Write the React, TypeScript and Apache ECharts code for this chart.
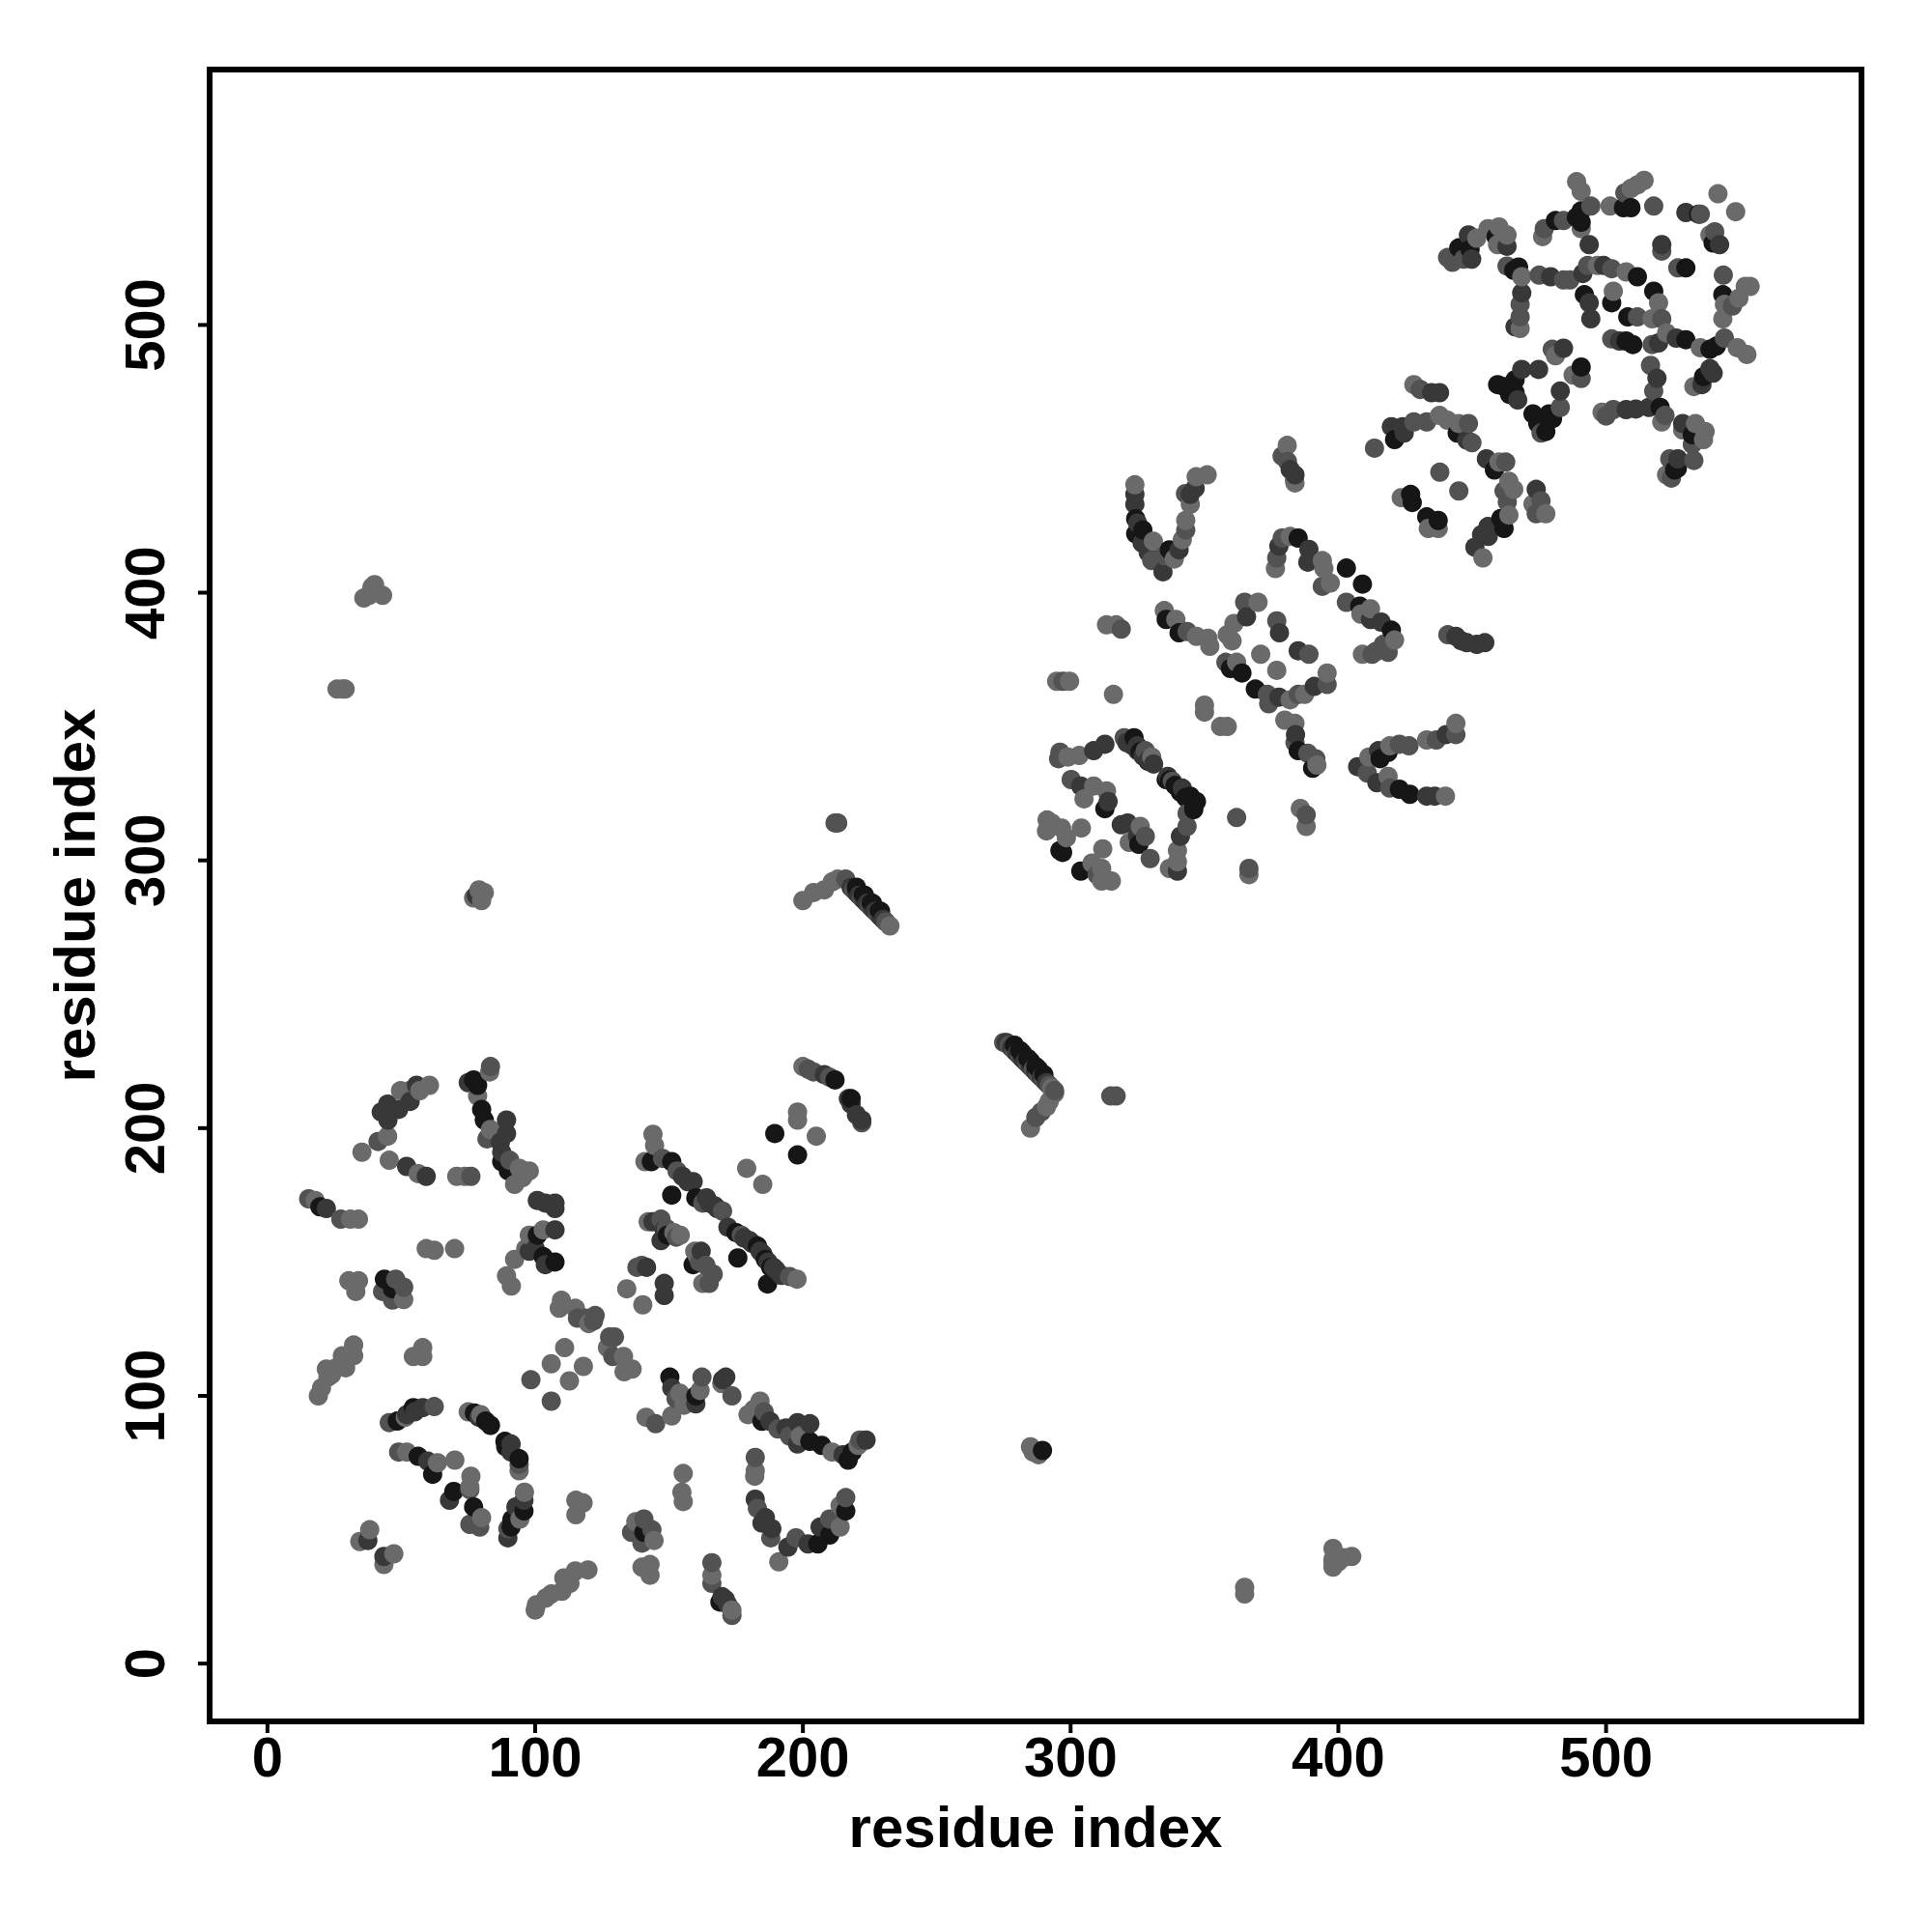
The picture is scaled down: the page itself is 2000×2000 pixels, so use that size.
import React, { useEffect, useRef } from "react";
import * as echarts from "echarts";

const tickValues = [0, 100, 200, 300, 400, 500];
const axisTitle = "residue index";
const AXIS_MIN = -21.6;
const AXIS_MAX = 595.4;

const blackPoints = [
[77,218],[78.5,216],[80,207],[81,203],[87.5,187.5],[90,184],[19.6,170.6],[100.8,160],[103,152],[107.4,150],[43.7,143.6],[46.7,140],[48.5,90.6],[54.5,95.6],[77.3,93.6],[81.5,90.6],[83.3,89],[88.7,83],[89,81],[94,76.5],[56.3,77.4],[61.7,70.7],[69.6,64.3],[77,58.5],[95.8,57],[91.3,53.8],[91,51],[140.6,49],[169,23],[205.6,44.7],[210,48],[216,57],[150.3,107],[160,100],[184.7,90.5],[202.6,83],[207,81.5],[216.9,76],[218.4,79],
[143.4,187.5],[151,187.5],[151,175],[160,174],[149.4,160],[159,149],[175,161],[183,156],[186,151],[188,148],[186.8,141.8],[175.7,151.5],[189.5,198],[198,190],[212,218],[218,211],
[324.3,427.6],[327,423.4],[324.3,422],[336.9,416],[385,420.4],[403,409.2],[409,403.2],[408,395],[419.8,386],[335.7,390],[340.5,385],[364,370],[359.7,371.7],[369,364],[385,341],[390.4,334.4],[418.6,340.4],[415.6,338],[422.8,326.6],[426.7,324.7],[323.7,345.8],[329,337],[326,340.6],[335.7,330.2],[344.7,324],[345.9,321],[312.8,319.3],[325.5,306],[296,303.7],[303.8,296],[427,436.7],[427.6,433.7],[433,428.3],[437.3,427],[297,303],
[445,528.8],[449.2,528.2],[458.9,533],[465.5,520.4],[467.3,521.6],[511.7,518],[491.9,511.3],[502.1,508.3],[481.1,539],[488.9,540.2],[490.7,542.6],[490.7,538.4],[509.3,543.8],[506.5,543.8],[529.8,521.3],[534.6,541.4],[540,530.6],[543.6,511.3],[517.8,512.6],[508.1,503],[507.5,494],[510,492.7],[529.8,494.5],[538.8,490.9],[541.2,492.1],[536.4,480.7],[520.2,469.2],[532.2,459],[526.6,446.4],[525.6,445.8],[466,479.5],[459.5,477.7],[461.9,477],[466,474.7],[464,474],[490.7,484.3],[478.7,466.8],[472.7,466.8],[474.5,463.2],[477.5,460.2],[480,465],[444.4,459.6],[421,457.2],[458.3,445.8],[460.7,427.7],[461.9,424],
[289.5,79.6],
[220,290],[223,287],[226,284],[229,281],[222.5,287],[225.5,284],[228.5,281],[279,231],[282,228],[285,225],[288,222],[281,229],[284,226],[287,223],[290,220],
[337,330],[339,328],[341,325.5],[343,323.5],[346,319],[347,322],
];

const darkPoints = [
[45,203],[42.5,206],[49,207],[44.9,209],[53.3,210],[55.7,216],[75,217],[89.3,203],[89.3,198],[87,194.7],[87.5,191],[52,185.7],[59.3,182],[22,170],[103.8,172],[107.4,172],[107.4,170],[100.8,173],[107.4,162],[97.8,154],[100,155],[103.8,149],[52,93],[55,94],[58,95.6],[79,92],[91,82],[91,79],[59.9,75.6],[68,61],[95.8,61],[92.8,58.5],[89.8,47],[37.5,46],[43.5,40],[169.8,25],[172,22],[171,24],[182.2,61.4],[186,54.5],[188.4,50.4],[184.7,52.5],[194.4,43.5],[201.9,44.7],[206.4,51],[171.2,107],[170,106],[151,103],[160,97],[187.7,90.5],[193.7,88],[198,90],[202.6,89.6],[198,82],[223.6,83.5],[215,78],
[159,180],[148.2,162],[141.6,148],[148.2,142],[148.2,137.5],[165,172],[168,170],[172,163],[180,158],[185,153],[190,147],[147,158],[144,165],[162,154],[208,220],[217,211],[218,209],[220,205],[222,203],
[155,182],[157,180],[164,174],[167,171],[178,159],[181,157],[184,154],[187,150],[189,148],[192,145],
[218,290],[220,288],[221,287],[223,285],[224,284],[226,282],[227,281],[229,279],[230,278],[276,232],[278,230],[280,228],[282,226],[283,225],[285,223],[287,221],[289,219],[291,217],[78,287],
[321,344],[323,343],[325,341],[327,339],[329,337.5],[331,336],
[324,436.7],[324,433],[325,426],[326.7,418.6],[329,415],[334.5,407.8],[340.5,416],[344.7,436.7],[346.5,439],[383.8,444],[382,446],[377.8,417.4],[389,416.2],[388.6,411.4],[412,390],[416,389],[443.9,383.7],[448,381.3],[451.7,380.7],[454.7,381.3],[446,382],[365.7,391],[378,385],[385,378.3],[377.8,361],[391,365],[384,347],[440.3,347],[415,341],[407.2,335],[414.4,329],[433,324],[436,324],[308.6,341],[312.8,343.4],[324.9,342.8],[336.3,331.4],[341.7,327],[341,309],[339.9,296],[303.8,327.8],[314,322],[318.9,313.3],[321.3,314],[325,309],
[468.5,512],[449.8,524.6],[448.6,533.6],[463,529.4],[479.3,518],[491.3,519.2],[499.1,522.2],[493.7,530],[493.7,508.3],[494.3,502.3],[466,499.3],[520.8,530],[529.8,542],[542.4,530],[526.2,495.1],[519.6,493.3],[505,494],[538.8,483.7],[540,482],[535.8,477.7],[519,480.1],[516,469.2],[511.1,468.6],[507.5,468.4],[528.6,463.2],[526.8,450],[474.8,483.4],[468.5,483.4],[467,472],[484.1,491.3],[482.9,475.3],[434.8,474.7],[437.8,474.7],[419.8,462],[424,462],[424.6,459.6],[448,457],[455.3,450],[455.9,424.7],[453.5,421.7],[473.9,438.6],[456,421],[451,417],
];

const midPoints = [
[41.3,195],[83.3,223],[82,196],[90.5,188],[15.4,173.6],[27.4,166],[76,182],[47.9,143.6],[43,139],[50.9,140.6],[46.7,135.8],[45.5,90],[62.3,96],[94,74.4],[49,79],[75.6,65],[79.3,51],[75.6,52],[89.8,50.4],[182.2,77],[136,49],[140.6,54],[143.6,50],[139.9,45],[166,37.7],[166,30],[173.5,18],[183,58],[188,47],[197.4,47],[210,54],[216,62],[162.3,107],[173.5,100],[152.6,99],[145,89.6],[185.5,94],[190.7,87.6],[195,85],[221.3,83.5],
[147.6,188.7],[153,184],[162.6,172],[147,166],[161.4,150],[138,148],[170,169],[177,160],[195,144.6],[149,162.5],[152.7,159.3],[163.8,148.7],[166.5,145.5],[165,142],[139.8,148.7],[202,222],[204,221],[210,219],[222,202],[98.4,106],[106,98],[115.8,129],[118.8,129],[122.4,130],[121.8,128],[127.8,122],[129.6,122],[129,114.7],[212,314],[213,314],[315,212],[317,212],[216,293],[219,289],[222,286],[225,283],[228,280],[231,277],[275,232],[277,231],[279,229],[281,227],[284,224],[286,222],[288,220],[290,218],[292,216],[294,214],[287,204],[289,206],
[343,423.4],[330.3,412],[335,413.8],[342.9,437],[379,451],[381,449],[377,413],[379,420.4],[394,402.4],[403,396.4],[412.6,377],[418.6,377.7],[416.8,380.7],[414,378],[440.9,384.3],[343.5,385.5],[365,396.4],[358,374],[377,389.5],[389,377],[373.5,362],[374,358.5],[395.8,365.7],[385,362],[383.8,344],[388.6,340],[391.6,338],[297.2,366.9],[318.9,386.4],[443.9,347],[436.6,345],[426.4,342.8],[422.8,343.4],[410.8,332.6],[419.2,327],[296,340.4],[295.5,338],[320,345.8],[327.9,341],[338,329.6],[343.5,317.6],[343.5,312.7],[300.2,330.2],[327.9,309],[329.7,300.7],[309.9,294.7],[362,316],[388,317],[366.6,297],[437.9,445],[445,438],
[440.8,525.2],[442.6,523.4],[446.8,524.6],[463,522],[467.9,507.7],[467.9,503],[475,518.6],[484.1,516.8],[486.5,516.8],[493.1,522.2],[502.1,521],[476.9,536],[484.1,539],[494.3,544.4],[507,549.3],[517.8,544.4],[520.8,527.6],[526.8,521.3],[535.2,541.4],[540.6,534.8],[543.8,518.6],[547.2,507.1],[511.7,503],[520.8,502.3],[502.1,494.8],[517.2,492.7],[544.2,495.1],[516.6,484.9],[517.8,475.3],[522,466.2],[502.7,468.4],[500,466],[532.2,455.4],[532.8,449.4],[523.8,450],[524.4,442.8],[479.9,490.9],[490.7,480],[482.9,469.2],[475.7,459.6],[430.6,475.9],[428.2,463.8],[433,463.8],[448.6,463.2],[449.9,456],[462.5,448.8],[461.9,438],[463.1,433.8],[475.7,434.3],[473.9,429.5],[413.5,454],
];

const lightPoints = [
[44.9,197],[53,214],[49.7,214],[60.5,216],[56.9,214],[83,221],[78.5,212],[83.3,199.5],[94.1,185],[97.8,184],[92.3,179],[95.3,181.5],[35.3,191],[45.5,188],[56.3,183],[70.7,182],[73.7,182],[17.8,173],[31,166],[34,166],[59.3,155],[62.3,154.4],[69.9,155],[30.4,143],[34,143],[33,139],[97.8,160],[103,162],[96.5,155],[92.3,151],[89.3,144.8],[91.1,141],[50.9,136],[19,100],[20.2,103],[22.6,107],[22,110],[25.6,110.5],[29.2,110.5],[28,115],[32.2,115],[32.2,119],[24,108],[54.5,114.7],[58,114.7],[58,118],[51.5,92],[75,94],[79.7,93],[52,79],[63.5,75],[70,76],[76,70],[75.6,66],[80,54.5],[94,72],[96,64],[94.3,54],[38.2,50],[34.5,45.6],[47.2,41],[43.5,37],[115.2,61],[117.9,60],[115.2,55.6],[155.3,71],[154.8,64],[155.3,60.5],[182.2,72],[182,70],[137.6,53],[144.4,46],[139.9,36],[142.9,37],[142.9,33],[166,33],[173.5,20],[100,20],[100.5,22],[104,24.5],[110,27],[110.7,32],[115,34.6],[119.7,35],[106,26],[113,30],[191,38],[213.9,51],[213.9,59],[169.7,104.6],[154,101],[161.6,102],[157.8,98],[155.6,96.5],[151,92.5],[141.4,92],[179.5,93],[184,98],[181.7,95],[199,85],[210.9,79],[220.6,81.5],
[144,197.7],[144.6,193.5],[141,187.5],[142.2,165],[151.8,161],[154.2,160],[159.6,154],[162.6,142],[134.2,140],[140.2,134],[197.8,143.6],[160.5,152.4],[179,185],[185,179],[198,206],[198,203],[205,197],[200,223],[109.8,135.7],[109,132.7],[115,132.7],[120,127],[127,118],[133,114.7],[133.2,109],[136.2,110],[111,118],[106,112],[118,111],[112.8,105.6],
[36,398],[38,399],[40,403],[41,400],[43,399],[39,402],[26,364],[28,364],[29,364],[77,286],[79,289],[80,285],[81,288],[200,285],[204,288],[208,289],[211,292],[213,293],[232.5,275.5],[398,43],[398,39],[398,36],[402,39.6],[405,40],[400,38],[285,81],[286,79],[288,78],[285,200],[291,208],[292,210],[294,213],[293,215],[365,28.5],[365,26],[398,38],
[324,440.3],[330.9,419.2],[338.7,412.6],[341.7,419.8],[343,427],[344.7,433],[346.9,443.3],[351,444],[383.8,441],[380.9,455],[383.6,442],[376.5,409],[382,421],[394,412],[394.6,409],[397,403.6],[408.4,392],[412,394],[421,382.3],[409,377],[335,393.3],[339.3,390],[347,383.7],[351.3,383],[352,380],[370,396.4],[361,388.5],[358.5,384.3],[360.3,382],[362,374],[371,377],[377,371],[382,360],[387.4,362],[395.8,370],[383.8,351.2],[380,352.4],[392,335.6],[294.8,366.9],[299.6,366.9],[316,362],[350,358],[350,355.4],[356,350],[358.5,350],[313.4,388],[317,388],[443.9,351.2],[433,345],[419.2,342.8],[411.4,338.6],[418.6,331.4],[440,324],[299,338.6],[303.2,339.2],[330.3,338.6],[339.9,303.7],[339.9,299.5],[336.9,297],[308.6,327.8],[313.4,326],[305,323],[326,312.7],[321.9,306.7],[291.2,315.1],[293,313.9],[296.6,312.1],[291,311],[304,312.1],[298.4,308.5],[312,304.3],[308,299],[311.6,297],[311.6,292.3],[315.2,292.3],[385.8,319.4],[388,312.7],[366.6,294.7],[423.5,435.5],[433.6,424],[437.3,424],
[451.7,532.4],[455.9,536],[460,536.6],[463,533.6],[459.5,530],[468.5,518],[467.9,498.7],[496.7,522.2],[507.5,519.8],[502.7,512.6],[476.3,533],[489,553.5],[490.7,549.9],[490.7,536],[501.5,544.4],[509.3,551],[511.7,552.3],[514.2,554],[541.8,549],[548.4,542.3],[538.8,533.6],[552,514.4],[553.8,514.4],[549.6,510],[543.6,502.3],[544.2,507.7],[519.6,508.3],[517.2,502.3],[522.6,497],[535.2,491.5],[549,491.5],[552.6,489],[532.8,477],[520.8,463.8],[498.5,467.4],[528.6,460.8],[533.4,463.2],[537,460.2],[536.4,457.2],[522.6,444],[481.1,488.5],[487.7,481.3],[428.2,477.7],[437.8,466.2],[440.8,464.4],[445,463.2],[460,448.8],[463.7,441.6],[465.5,438.6],[463.7,429],[477.5,429.5],[472.7,433.1],[454,413],
];

const shadeGroups: [number[][], string][] = [
  [lightPoints, "#6a6a6a"],
  [midPoints, "#525252"],
  [darkPoints, "#383838"],
  [blackPoints, "#161616"],
];

// The reference overdraws its dots column by column: larger x lies on top.
const drawOrder = shadeGroups
  .flatMap(([points, color]) =>
    points.map((value) => ({ value, itemStyle: { color, opacity: 1 } })),
  )
  .sort((a, b) => a.value[0] - b.value[0] || a.value[1] - b.value[1]);

const FONT = "Liberation Sans";

const axisBase = {
  type: "value",
  min: AXIS_MIN,
  max: AXIS_MAX,
  name: axisTitle,
  nameLocation: "middle",
  nameTextStyle: { fontFamily: FONT, fontWeight: "bold", fontSize: 60, color: "#000" },
  axisLine: { show: true, onZero: false, lineStyle: { color: "#000", width: 6 } },
  splitLine: { show: false },
  axisTick: { show: false },
};

const labelBase = {
  show: true,
  color: "#000",
  fontFamily: FONT,
  fontWeight: "bold",
  fontSize: 58,
  customValues: tickValues,
};

export default function App() {
  const ref = useRef<HTMLDivElement>(null);
  useEffect(() => {
    const chart = echarts.init(ref.current!, null, { renderer: "svg" });
    chart.setOption({
      animation: false,
      backgroundColor: "#fff",
      grid: {
        left: 217,
        top: 72,
        width: 1710,
        height: 1710,
        show: true,
        borderColor: "#000",
        borderWidth: 6,
        backgroundColor: "transparent",
      },
      xAxis: {
        ...axisBase,
        nameGap: 79,
        axisLabel: { ...labelBase, margin: 7 },
      },
      yAxis: {
        ...axisBase,
        nameGap: 110,
        axisLabel: { ...labelBase, rotate: 90, margin: 39, align: "center", verticalAlign: "bottom" },
      },
      series: [
        {
          type: "scatter",
          data: drawOrder,
          symbol: "circle",
          symbolSize: 20,
          silent: true,
        },
      ],
    });
    // Tick marks are placed through the chart's own scales.
    const tickMark = (x: number, y: number, width: number, height: number) => ({
      type: "rect",
      silent: true,
      z: 100,
      shape: { x, y, width, height },
      style: { fill: "#000" },
    });
    const marks = tickValues.flatMap((t) => {
      const [px, bottom] = chart.convertToPixel({ gridIndex: 0 }, [t, AXIS_MIN]);
      const [left, py] = chart.convertToPixel({ gridIndex: 0 }, [AXIS_MIN, t]);
      return [
        tickMark(px - 2, bottom, 4, 12),
        tickMark(left - 12, py - 2, 12, 4),
      ];
    });
    chart.setOption({ graphic: { elements: marks } });
    return () => chart.dispose();
  }, []);
  return (
    <div
      ref={ref}
      style={{ position: "absolute", left: 0, top: 0, width: 2000, height: 2000 }}
    />
  );
}
